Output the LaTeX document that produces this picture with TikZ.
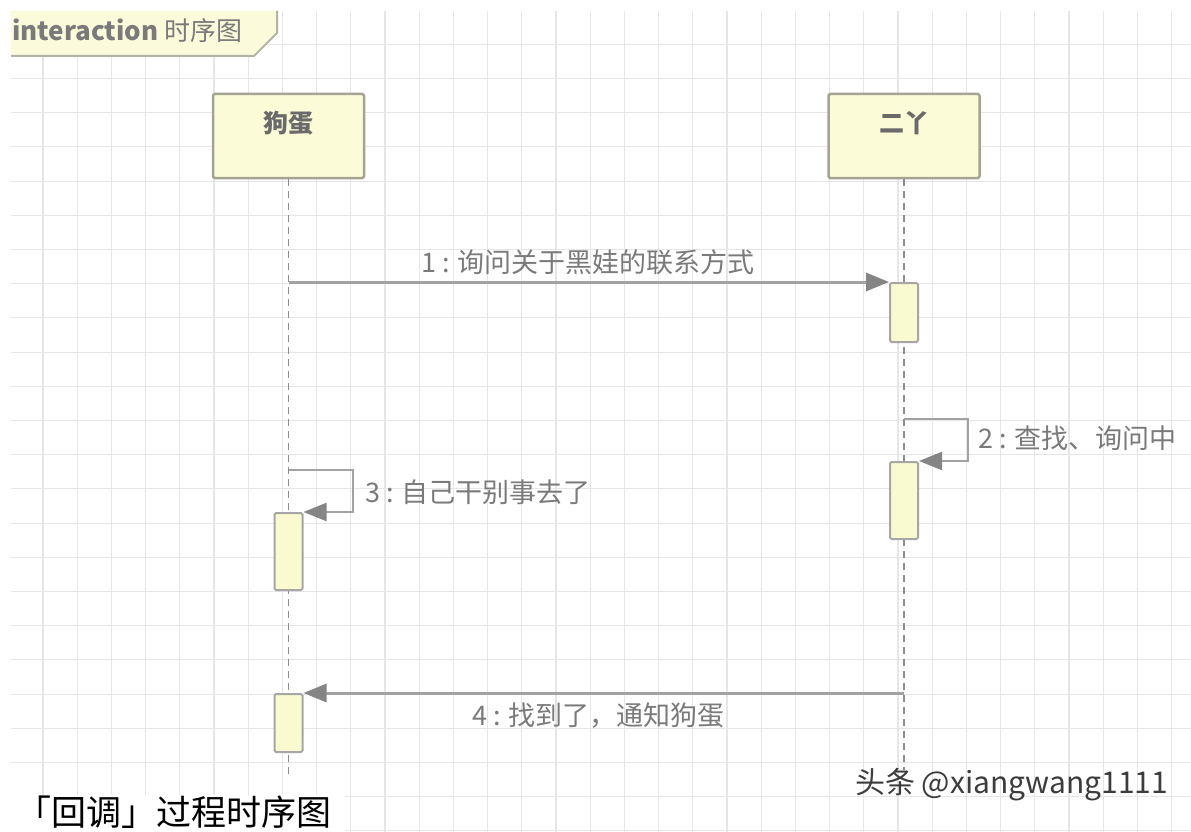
\documentclass[tikz,border=0pt]{standalone}
\usepackage{fontspec}
\setmainfont{Noto Sans CJK SC}
\usetikzlibrary{arrows.meta}
\definecolor{gridc}{HTML}{E6E6E6}
\definecolor{tabfill}{HTML}{FBFBDC}
\definecolor{tabline}{HTML}{B4B4A6}
\definecolor{partfill}{HTML}{FBFBD8}
\definecolor{partline}{HTML}{A4A494}
\definecolor{parttext}{HTML}{6A6A6A}
\definecolor{actfill}{HTML}{FAFAD0}
\definecolor{actline}{HTML}{A6A6A6}
\definecolor{msgline}{HTML}{A2A2A2}
\definecolor{tipc}{HTML}{858585}
\definecolor{lifec}{HTML}{8C8C8C}
\definecolor{lbltext}{HTML}{7A7A7A}
\definecolor{wmtext}{HTML}{3C3C3C}
\begin{document}
\begin{tikzpicture}[x=1pt,y=-1pt,
  gridline/.style={draw=gridc,line width=1.1pt},
  part/.style={draw=partline,fill=partfill,line width=2.5pt,rounded corners=2pt,
    minimum width=151pt,minimum height=84pt,inner sep=0pt,
    text height=22pt,text depth=30pt,
    font=\fontsize{25}{30}\selectfont\bfseries,text=parttext},
  act/.style={draw=actline,fill=actfill,line width=2pt,rounded corners=1.5pt,
    minimum width=28pt,inner sep=0pt},
  life/.style={draw=lifec,line width=1.5pt,dash pattern=on 7pt off 5pt},
  msg/.style={draw=msgline,line width=3pt,-{Triangle[length=23pt,width=18pt,color=tipc]}},
  selfmsg/.style={draw=msgline,line width=2.2pt,-{Triangle[length=23pt,width=18pt,color=tipc]}},
  lbl/.style={inner sep=0pt,font=\fontsize{27}{32}\selectfont,text=lbltext},
  titletext/.style={inner sep=0pt,font=\fontsize{26}{31}\selectfont,text=lbltext},
  wmstyle/.style={inner sep=0pt,font=\fontsize{30}{36}\selectfont,text=wmtext},
  captxt/.style={inner sep=0pt,font=\fontsize{35}{42}\selectfont,text=black}
]
\useasboundingbox (0,0) rectangle (1191,832);
\fill[white] (0,0) rectangle (1191,832);
% grid
\foreach \i in {0,...,33} \draw[gridline] ({43+34.2*\i},11) -- ({43+34.2*\i},832);
\foreach \j in {0,...,23} \draw[gridline] (11,{44.3+34.2*\j}) -- (1191,{44.3+34.2*\j});
% caption background
\fill[white] (0,795) rectangle (345,832);
% title tab
\fill[tabfill] (11,11) -- (277,11) -- (277,33) -- (254,56) -- (11,56) -- cycle;
\draw[tabline,line width=2pt] (277,11) -- (277,33) -- (254,56) -- (11,56);
\node[titletext,anchor=base west] (title) at (12,41) {\textbf{interaction} 时序图};
% participants
\node[part] (gd) at (288.5,136) {狗蛋};
\node[part] (ey) at (904,136) {二丫};
% lifelines
\coordinate (gdend) at (288.5,778);
\coordinate (eyend) at (904,770);
\draw[life] (gd.south) -- (gdend);
\draw[life] (ey.south) -- (eyend);
% activations
\node[act,minimum height=59pt] (a1) at (904,312.5) {};
\node[act,minimum height=77pt] (a2) at (904,500.5) {};
\node[act,minimum height=77pt] (a3) at (288.5,551.5) {};
\node[act,minimum height=58pt] (a4) at (288.5,723) {};
% message 1
\draw[msg] (gd.south |- a1.north west) -- (a1.north west);
\node[lbl] (l1) at (588,262) {1 : 询问关于黑娃的联系方式};
% message 2
\coordinate (m2s) at (904,419);
\draw[selfmsg] (m2s) -- ++(64,0) |- (a2.north east);
\node[lbl,anchor=west] (l2) at (978,438) {2 : 查找、询问中};
% message 3
\coordinate (m3s) at (288.5,470);
\draw[selfmsg] (m3s) -- ++(64.5,0) |- (a3.north east);
\node[lbl,anchor=west] (l3) at (365,492) {3 : 自己干别事去了};
% message 4
\draw[msg] (ey.south |- a4.north east) -- (a4.north east);
\node[lbl] (l4) at (598.5,716) {4 : 找到了，通知狗蛋};
% watermark and caption
\node[wmstyle,anchor=west] (wmk) at (855,785) {头条 @xiangwang1111};
\node[captxt,anchor=west] (capt) at (16,812) {「回调」过程时序图};
\end{tikzpicture}
\end{document}
